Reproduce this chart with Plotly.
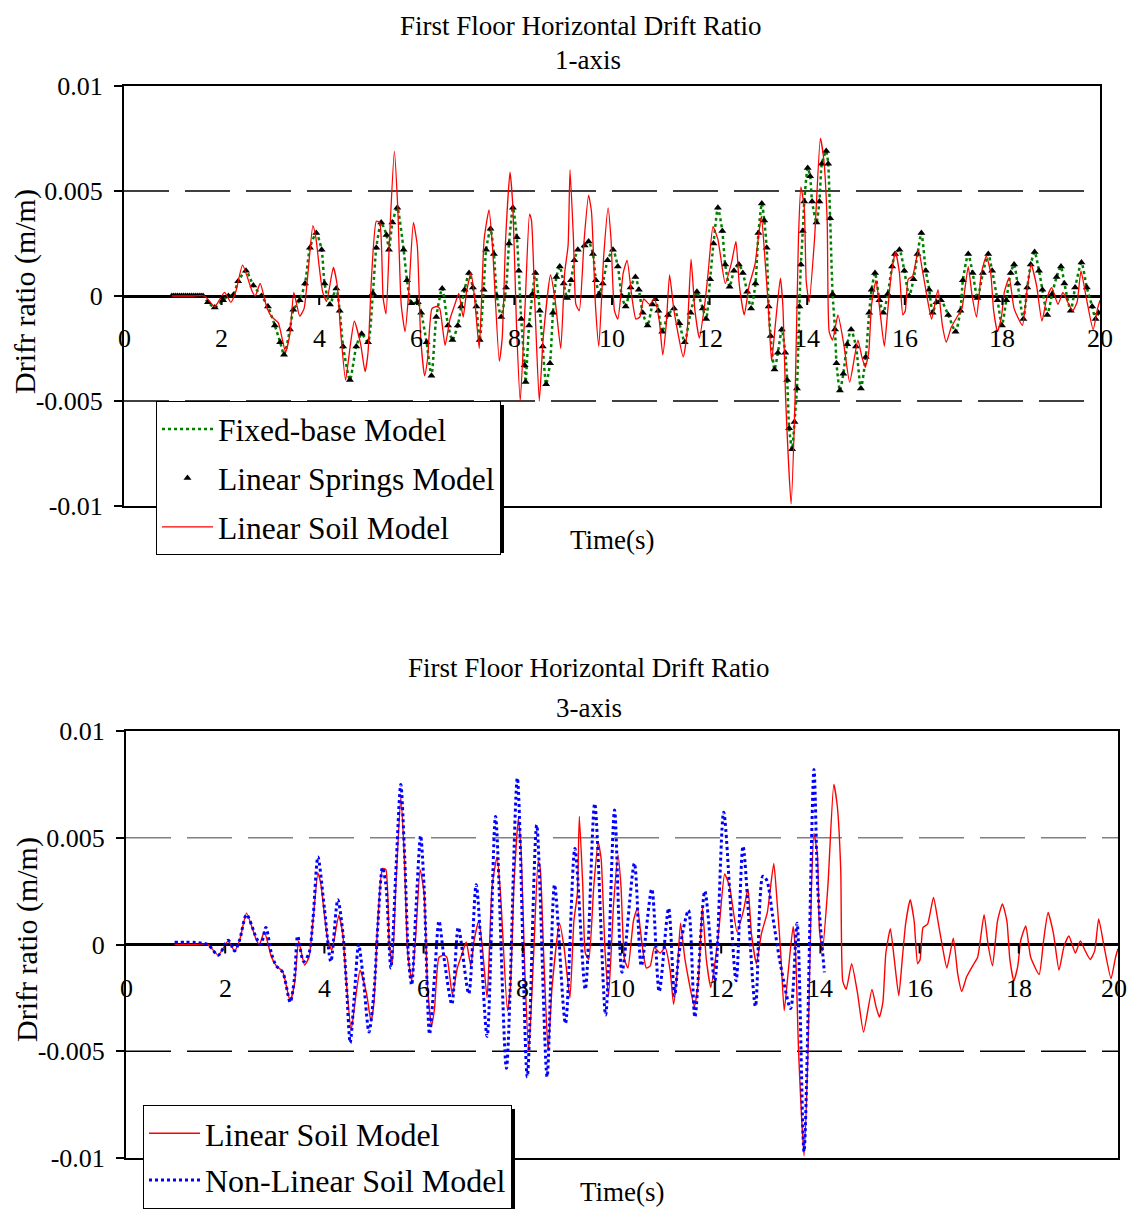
import plotly.graph_objects as go

# The page body has an 8px default margin, so the figure is sized to fill the rest of the window
OFF = 8
W, H = 1136 - OFF, 1209 - OFF
FONT = "Liberation Serif, Times New Roman, serif"

# ---------------- data ----------------
# Top chart, 1-axis: Fixed-base and Linear Springs curves (they coincide in the picture)
time_1axis = [0.98, 1.02, 1.06, 1.1, 1.14, 1.18, 1.22, 1.26, 1.3, 1.34, 1.38, 1.42, 1.46, 1.5, 1.54, 1.58, 1.62,
              1.72, 1.86, 2.03, 2.14, 2.24, 2.34, 2.50, 2.65, 2.82, 2.95,
              3.09, 3.20, 3.28, 3.40, 3.47, 3.60, 3.71, 3.81, 3.94, 4.05, 4.11, 4.22, 4.35, 4.42, 4.49, 4.63,
              4.76, 4.87, 5.0, 5.10, 5.17, 5.27, 5.38, 5.43, 5.50, 5.60, 5.73, 5.80, 5.89, 6.02, 6.09, 6.20,
              6.30, 6.40, 6.52, 6.64, 6.73, 6.84, 6.91, 6.98, 7.07, 7.15, 7.22, 7.29, 7.37, 7.42, 7.51, 7.58,
              7.64, 7.73, 7.83, 7.89, 7.97, 8.05, 8.09, 8.14, 8.21, 8.23, 8.30, 8.37, 8.43, 8.52, 8.58, 8.65,
              8.73, 8.79, 8.86, 8.93, 9.01, 9.08, 9.16, 9.23, 9.30, 9.44, 9.52, 9.61, 9.67, 9.74, 9.81, 9.91,
              10.02, 10.12, 10.20, 10.28, 10.38, 10.48, 10.55, 10.63, 10.73, 10.83, 10.89, 10.95, 11.03, 11.15,
              11.27, 11.38, 11.49, 11.61, 11.74, 11.86, 11.93, 12.01, 12.08, 12.17, 12.26, 12.32, 12.41, 12.50,
              12.60, 12.68, 12.77, 12.85, 12.94, 13.0, 13.07, 13.12, 13.17, 13.21, 13.25, 13.33, 13.40, 13.48,
              13.55, 13.59, 13.63, 13.69, 13.74, 13.79, 13.84, 13.87, 13.91, 13.94, 14.01, 14.06, 14.10, 14.19,
              14.25, 14.30, 14.39, 14.43, 14.47, 14.52, 14.57, 14.60, 14.67, 14.74, 14.82, 14.90, 15.0, 15.10,
              15.20, 15.27, 15.32, 15.39, 15.48, 15.56, 15.65, 15.74, 15.80, 15.89, 15.99, 16.09, 16.18, 16.26,
              16.34, 16.43, 16.50, 16.57, 16.65, 16.74, 16.89, 17.04, 17.14, 17.19, 17.30, 17.39, 17.49, 17.60,
              17.71, 17.79, 17.90, 17.99, 18.08, 18.17, 18.24, 18.31, 18.43, 18.51, 18.58, 18.66, 18.75, 18.82,
              18.92, 19.02, 19.11, 19.20, 19.27, 19.40, 19.49, 19.62, 19.73, 19.84, 19.91, 19.97]
fixed_base_1axis = [0, 0, 0, 0, 0, 0, 0, 0, 0, 0, 0, 0, 0, 0, 0, 0, 0,
                    -0.0003, -0.00055, -0.0002, 0.0, 0.00005, 0.0007, 0.0012, 0.0005, 0.0,
                    -0.0005, -0.0014, -0.0022, -0.0028, -0.0016, -0.00066, -0.0002, 0.0006, 0.0023, 0.003, 0.0022,
                    0.0006, -0.0004, 0.00036, -0.0007, -0.0024, -0.004, -0.0024, -0.0018, -0.0022, 0.00013, 0.0023,
                    0.0035, 0.0029, 0.0022, 0.0035, 0.0042, 0.0022, 0.00075, -0.00035, -0.0003, -0.0008, -0.0022,
                    -0.0038, -0.001, 0.00036, -0.0014, -0.0021, -0.0014, -0.0005, 0.0003, 0.0011, 0.0004, -0.0005,
                    -0.0021, 0.0003, 0.0022, 0.0032, 0.0020, 0.0, -0.001, 0.0004, 0.0025, 0.0042, 0.0028, 0.0012,
                    -0.0011, -0.0033, -0.0041, -0.0014, 0.0001, 0.0011, -0.0007, -0.0024, -0.0042, -0.0032, -0.0008,
                    0.0009, 0.0014, 0.0006, -0.0001, 0.00075, 0.0017, 0.0022, 0.0024, 0.0026, 0.002, 0.00075, 0.0001,
                    0.0006, 0.0017, 0.0022, 0.0014, 0.0, -0.0005, 0.0004, 0.0009, 0.0003, -0.0008, -0.0014, -0.0004,
                    -0.00016, -0.0007, -0.0017, -0.0009, -0.0006, -0.0013, -0.0022, -0.0008, 0.0002, -0.0006,
                    -0.0011, 0.0008, 0.0025, 0.0042, 0.0031, 0.0015, 0.00044, 0.0012, 0.0015, 0.0011, 0.0002,
                    -0.0006, 0.0006, 0.003, 0.0044, 0.0036, 0.0023, -0.0005, -0.0019, -0.0035, -0.0027, -0.0016,
                    -0.0027, -0.004, -0.0063, -0.0073, -0.006, -0.0044, -0.0005, 0.0015, 0.0031, 0.0045, 0.0061,
                    0.0057, 0.0045, 0.0035, 0.0045, 0.0063, 0.0069, 0.0063, 0.0037, 0.0001, -0.0016, -0.0032,
                    -0.0045, -0.0037, -0.0023, -0.0016, -0.0024, -0.0044, -0.0029, -0.0008, 0.0003, 0.0011, -0.0002,
                    -0.0008, 0.0001, 0.0014, 0.002, 0.0022, 0.0012, 0.0, 0.0008, 0.002, 0.003, 0.0012, 0.0003,
                    -0.0008, -0.0003, -0.0002, -0.0009, -0.0017, -0.0007, 0.00075, 0.002, 0.0011, -0.0001, 0.0011,
                    0.002, 0.0012, -0.0002, -0.0014, -0.0002, 0.0011, 0.0015, 0.0006, -0.0011, 0.0004, 0.0015,
                    0.0021, 0.0012, 0.0003, -0.0009, 0.0001, 0.0009, 0.0014, 0.0006, -0.0007, 0.0004, 0.0016,
                    0.0004, -0.0005, -0.0011, -0.0008]
linear_springs_1axis = list(fixed_base_1axis)  # indistinguishable from the fixed-base curve

# Linear Soil Model (same curve in both charts)
time_soil = [0.98, 1.2, 1.4, 1.65, 1.86, 2.06, 2.19, 2.29, 2.43, 2.63, 2.69, 2.79, 2.93, 3.03, 3.16, 3.31, 3.40,
             3.48, 3.60, 3.69, 3.77, 3.87, 3.93, 4.0, 4.07, 4.15, 4.29, 4.37, 4.44, 4.54, 4.64, 4.72, 4.85, 4.94,
             5.0, 5.07, 5.17, 5.24, 5.31, 5.37, 5.44, 5.54, 5.61, 5.68, 5.76, 5.84, 5.93, 6.01, 6.08, 6.16, 6.22,
             6.31, 6.41, 6.47, 6.58, 6.68, 6.78, 6.86, 6.95, 7.02, 7.11, 7.18, 7.28, 7.38, 7.48, 7.55, 7.69, 7.75,
             7.82, 7.91, 7.97, 8.04, 8.12, 8.22, 8.31, 8.35, 8.42, 8.51, 8.59, 8.74, 8.83, 8.95, 9.03, 9.10, 9.14,
             9.21, 9.26, 9.33, 9.43, 9.52, 9.58, 9.66, 9.73, 9.83, 9.92, 9.98, 10.05, 10.12, 10.23, 10.31, 10.41,
             10.49, 10.57, 10.65, 10.77, 10.87, 10.97, 11.04, 11.11, 11.18, 11.27, 11.46, 11.54, 11.62, 11.70,
             11.79, 11.90, 11.97, 12.07, 12.17, 12.32, 12.45, 12.54, 12.61, 12.71, 12.81, 12.93, 13.06, 13.13,
             13.20, 13.27, 13.35, 13.45, 13.50, 13.56, 13.67, 13.75, 13.82, 13.87, 13.94, 13.98, 14.04, 14.15,
             14.27, 14.34, 14.41, 14.45, 14.52, 14.63, 14.75, 14.87, 15.04, 15.12, 15.19, 15.26, 15.32, 15.41,
             15.49, 15.58, 15.65, 15.72, 15.81, 15.89, 15.96, 16.01, 16.07, 16.16, 16.28, 16.37, 16.46, 16.55,
             16.68, 16.77, 16.85, 16.95, 17.07, 17.17, 17.30, 17.38, 17.47, 17.57, 17.67, 17.76, 17.82, 17.90,
             17.98, 18.04, 18.14, 18.24, 18.41, 18.50, 18.59, 18.70, 18.81, 18.91, 19.01, 19.14, 19.24, 19.34,
             19.44, 19.53, 19.61, 19.72, 19.86, 19.95, 20.0]
linear_soil = [0, 0, 0, 0, -0.0005, 0.00017, -0.0003, 0.0002, 0.00147, 0.0002, 0.0, 0.0006, -0.00057, -0.001,
               -0.00127, -0.00266, -0.0018, 0.00017, -0.00096, -0.0006, 0.0011, 0.00335, 0.0028, 0.0014, 0.0002,
               -0.00026, 0.00136, 0.0005, -0.0017, -0.004, -0.0023, -0.0012, -0.0023, -0.0036, -0.0027, 0.0008,
               0.00356, 0.0035, -0.0001, -0.00085, 0.0027, 0.0069, 0.0042, -0.0004, -0.0017, 0.00035, 0.0035,
               0.0024, -0.002, -0.0038, -0.003, -0.0006, -0.0005, -0.0006, -0.00235, -0.0011, -0.0004, 0.00012,
               -0.001, 0.0002, 0.0011, 0.0, -0.0025, 0.0027, 0.0041, 0.0024, -0.0031, -0.002, 0.0027, 0.0059,
               0.0042, -0.0012, -0.005, -0.0004, 0.0039, 0.0036, -0.0004, -0.005, -0.002, 0.001, -0.0001, -0.0025,
               0.0011, 0.0024, 0.006, 0.0027, -0.0004, -0.0007, 0.0027, 0.0048, 0.004, -0.0004, -0.0024, 0.0019,
               0.0042, 0.0027, -0.0007, -0.0011, 0.0011, 0.0017, -0.0001, -0.0011, -0.001, -0.00014, -0.0004,
               -0.00014, -0.0012, -0.0028, -0.0014, 0.001, -0.0007, -0.0029, -0.0017, 0.00175, -0.0007, -0.002,
               -0.0004, 0.0011, 0.0033, 0.0027, 0.0006, 0.0016, 0.0026, 0.0005, -0.0009, 0.0005, 0.0015, 0.0038,
               0.0019, -0.0004, -0.0031, -0.0013, 0.00085, -0.0004, -0.005, -0.0099, -0.005, 0.0027, 0.0052,
               0.0042, 0.0007, -0.0003, 0.0027, 0.0075, 0.0065, 0.0035, -0.0017, -0.0021, -0.0009, -0.0023,
               -0.0041, -0.0021, -0.0029, -0.0034, -0.0027, -0.0004, 0.00074, -0.0007, -0.0024, -0.0007, 0.001,
               0.0021, 0.0011, -0.0009, -0.0007, 0.0008, 0.00095, 0.0022, 0.0011, -0.0001, -0.0011, 0.0003,
               -0.0014, -0.0022, -0.0015, -0.001, -0.0006, 0.0014, 0.0, -0.001, 0.0011, 0.0019, 0.0011, -0.0007,
               -0.0017, -0.001, 0.0002, 0.00087, -0.0006, -0.0014, 0.0002, 0.0015, 0.0005, -0.0012, -0.0001,
               0.0004, -0.0004, 0.00017, -0.0003, -0.0007, -0.0003, 0.0012, -0.0001, -0.0016, -0.0006, -0.0002]

# Non-Linear Soil Model (3-axis chart)
time_nonlinear = [0.98, 1.2, 1.4, 1.65, 1.86, 2.06, 2.19, 2.29, 2.43, 2.63, 2.72, 2.82, 2.93, 3.03, 3.16, 3.31,
                  3.40, 3.46, 3.58, 3.69, 3.77, 3.87, 4.0, 4.13, 4.27, 4.37, 4.44, 4.52, 4.60, 4.69, 4.78, 4.90,
                  5.0, 5.08, 5.17, 5.24, 5.34, 5.44, 5.54, 5.62, 5.70, 5.76, 5.84, 5.94, 6.01, 6.12, 6.22, 6.31,
                  6.41, 6.57, 6.70, 6.91, 7.06, 7.28, 7.45, 7.67, 7.89, 8.09, 8.28, 8.49, 8.64, 8.86, 9.05, 9.26,
                  9.45, 9.67, 9.85, 10.0, 10.25, 10.39, 10.60, 10.75, 10.94, 11.06, 11.15, 11.34, 11.47, 11.67,
                  11.87, 12.05, 12.30, 12.44, 12.69, 12.84, 12.92, 13.04, 13.20, 13.40, 13.53, 13.67, 13.87, 13.95,
                  14.08]
non_linear_soil = [0.0001, 0.0001, 0.0001, 0.0, -0.0005, 0.0002, -0.0003, 0.0002, 0.0014, 0.0003, 0.0, 0.0008,
                   -0.0004, -0.001, -0.0013, -0.0027, -0.0015, 0.0004, -0.0008, -0.0004, 0.0012, 0.0041, 0.0017,
                   -0.0008, 0.0021, 0.0006, -0.0017, -0.0046, -0.0025, 0.0, -0.0015, -0.0041, -0.0022, 0.001,
                   0.0036, 0.0028, -0.0011, 0.0034, 0.0075, 0.004, -0.0008, -0.0019, 0.0014, 0.0051, 0.0027,
                   -0.0042, -0.0015, 0.0011, -0.0006, -0.0028, 0.0008, -0.0023, 0.0028, -0.0043, 0.006, -0.0058,
                   0.0078, -0.0062, 0.0056, -0.0062, 0.0028, -0.0037, 0.0045, -0.0021, 0.0066, -0.0033, 0.0063,
                   -0.0013, 0.0038, -0.001, 0.0026, -0.0022, 0.0017, -0.0024, -0.0004, 0.0016, -0.0034, 0.0025,
                   -0.0017, 0.0062, -0.0017, 0.0046, -0.0029, 0.0032, 0.003, 0.0013, -0.001, -0.003, 0.001,
                   -0.0097, 0.0082, 0.0025, -0.0013]

x_tick_vals = [0, 2, 4, 6, 8, 10, 12, 14, 16, 18, 20]
x_tick_text = ["0", "2", "4", "6", "8", "10", "12", "14", "16", "18", "20"]
y_tick_vals = [-0.01, -0.005, 0, 0.005, 0.01]
y_tick_text = ["-0.01", "-0.005", "0", "0.005", "0.01"]


# ---------------- helpers: reference-window pixels -> paper fractions ----------------
def pxX(p):
    return (p - OFF) / W


def pxY(p):
    return 1 - (p - OFF) / H


fig = go.Figure()

fig.add_trace(go.Scatter(x=time_1axis, y=fixed_base_1axis, name="Fixed-base Model", mode="lines",
                         line=dict(color="#008000", width=2.5, dash="dot", shape="spline", smoothing=0.6),
                         xaxis="x", yaxis="y", legend="legend", legendgroup="a"))
fig.add_trace(go.Scatter(x=time_1axis, y=linear_springs_1axis, name="Linear Springs Model", mode="markers",
                         marker=dict(symbol="triangle-up", size=7, color="black"),
                         xaxis="x", yaxis="y", legend="legend", legendgroup="b"))
fig.add_trace(go.Scatter(x=time_soil, y=linear_soil, name="Linear Soil Model", mode="lines",
                         line=dict(color="#FF0000", width=1.3, shape="spline", smoothing=0.5),
                         xaxis="x", yaxis="y", legend="legend", legendgroup="c"))

fig.add_trace(go.Scatter(x=time_soil, y=linear_soil, name="Linear Soil Model", mode="lines",
                         line=dict(color="#FF0000", width=1.4, shape="spline", smoothing=0.5),
                         xaxis="x2", yaxis="y2", legend="legend2", legendgroup="d"))
fig.add_trace(go.Scatter(x=time_nonlinear, y=non_linear_soil, name="Non-Linear Soil Model", mode="lines",
                         line=dict(color="#0000FF", width=3, dash="dot", shape="spline", smoothing=0.8),
                         xaxis="x2", yaxis="y2", legend="legend2", legendgroup="e"))

axis_common = dict(showline=True, mirror=True, linecolor="black", linewidth=2, showgrid=False, automargin=False)
yaxis_common = dict(range=[-0.01, 0.01], tickvals=y_tick_vals, ticktext=y_tick_text,
                    ticks="outside", ticklen=8, tickwidth=1.5, tickcolor="black",
                    tickfont=dict(size=26, family=FONT), ticklabelstandoff=6,
                    zeroline=True, zerolinecolor="black", zerolinewidth=2.5, **axis_common)
legend_common = dict(xanchor="left", yanchor="top", bgcolor="white", bordercolor="black", borderwidth=1,
                     traceorder="grouped", itemwidth=51)

fig.update_layout(
    width=W, height=H, autosize=False, margin=dict(l=0, r=0, t=0, b=0, pad=0),
    paper_bgcolor="white", plot_bgcolor="white",
    font=dict(family=FONT, color="black"),
    xaxis=dict(domain=[pxX(124), pxX(1100)], range=[0, 20], showticklabels=False, ticks="",
               zeroline=False, anchor="y", **axis_common),
    yaxis=dict(domain=[pxY(506), pxY(86)], anchor="x", **yaxis_common),
    xaxis2=dict(domain=[pxX(126), pxX(1118)], range=[0, 20], showticklabels=False, ticks="",
                zeroline=False, anchor="y2", **axis_common),
    yaxis2=dict(domain=[pxY(1158), pxY(731)], anchor="x2", **yaxis_common),
    legend=dict(x=pxX(156), y=pxY(401), font=dict(size=31.5, family=FONT), tracegroupgap=5, **legend_common),
    legend2=dict(x=pxX(143), y=pxY(1105), font=dict(size=32, family=FONT), tracegroupgap=2, **legend_common),
    showlegend=True,
)

shapes = []
# dashed reference lines at +/-0.005
for xr, yr, col_top, col_bot in [("x", "y", "black", "black"), ("x2", "y2", "#808080", "black")]:
    shapes.append(dict(type="line", xref=xr, yref=yr, x0=0, x1=20, y0=0.005, y1=0.005,
                       line=dict(color=col_top, width=1.5, dash="45px,16px"), layer="below"))
    shapes.append(dict(type="line", xref=xr, yref=yr, x0=0, x1=20, y0=-0.005, y1=-0.005,
                       line=dict(color=col_bot, width=1.5, dash="45px,16px"), layer="below"))
    # small tick marks on the zero line
    for tv in x_tick_vals[1:-1]:
        shapes.append(dict(type="line", xref=xr, yref=yr, x0=tv, x1=tv, ysizemode="pixel", yanchor=0,
                           y0=0, y1=-9, line=dict(color="black", width=2)))
# legend shadows (offset 4px right/down behind the legend boxes)
shapes.append(dict(type="rect", xref="paper", yref="paper", x0=pxX(160), x1=pxX(504), y0=pxY(553), y1=pxY(405),
                   fillcolor="black", line=dict(width=0), layer="above"))
shapes.append(dict(type="rect", xref="paper", yref="paper", x0=pxX(147), x1=pxX(515), y0=pxY(1209), y1=pxY(1109),
                   fillcolor="black", line=dict(width=0), layer="above"))
fig.update_layout(shapes=shapes)

ann = []
for xr, yr, shift in [("x", "y", -42), ("x2", "y2", -44)]:
    for tv, tt in zip(x_tick_vals, x_tick_text):
        xs = -4 if (xr == "x2" and tv == 20) else 0
        ann.append(dict(x=tv, y=0, xref=xr, yref=yr, text=tt, showarrow=False, yshift=shift, xshift=xs,
                        font=dict(size=26, family=FONT), xanchor="center", yanchor="middle"))


def text_px(x, y, text, size, angle=0, yanchor="middle"):
    return dict(x=pxX(x), y=pxY(y), xref="paper", yref="paper", text=text, showarrow=False,
                font=dict(size=size, family=FONT), xanchor="center", yanchor=yanchor, textangle=angle)


ann += [
    text_px(580, 9, "First Floor Horizontal Drift Ratio", 27, yanchor="top"),
    text_px(588, 60, "1-axis", 27),
    text_px(612, 540, "Time(s)", 27),
    text_px(25, 292, "Drifr ratio (m/m)", 30, -90),
    text_px(588, 668, "First Floor Horizontal Drift Ratio", 27),
    text_px(589, 708, "3-axis", 27),
    text_px(622, 1192, "Time(s)", 27),
    text_px(27, 940, "Drifr ratio (m/m)", 30, -90),
]
fig.update_layout(annotations=ann)

fig.write_html("out.html")
